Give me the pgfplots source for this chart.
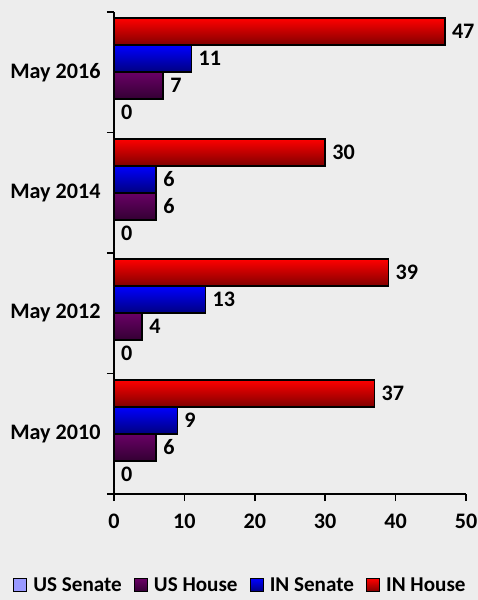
\documentclass[border=0pt]{standalone}
\usepackage{pgfplots}
\pgfplotsset{compat=1.18}
\usepackage{fontspec}
\setmainfont{Carlito}
\definecolor{bg}{HTML}{EDEDED}
\definecolor{redtop}{HTML}{FF0000}
\definecolor{redbot}{HTML}{800000}
\definecolor{bluetop}{HTML}{0000FF}
\definecolor{bluebot}{HTML}{000080}
\definecolor{purtop}{HTML}{6A0066}
\definecolor{purbot}{HTML}{330033}
\definecolor{ussen}{HTML}{9999FF}
\newcommand{\cf}{\bfseries\fontsize{22.2}{26}\selectfont}
\newcommand{\lf}{\bfseries\fontsize{21.2}{25}\selectfont}
\pgfplotsset{
  sen/.style={draw=black, line width=1.6bp, fill=ussen, bar shift=-0.336},
  ush/.style={draw=black, line width=1.6bp, top color=purtop, bottom color=purbot, bar shift=-0.112},
  ins/.style={draw=black, line width=1.6bp, top color=bluetop, bottom color=bluebot, bar shift=0.112},
  inh/.style={draw=black, line width=1.6bp, top color=redtop, bottom color=redbot, bar shift=0.336},
}
\begin{document}
\begin{tikzpicture}
\useasboundingbox (-114bp,-106bp) rectangle (364bp,494bp);
\clip (-114bp,-106bp) rectangle (364bp,494bp);
\fill[bg] (-114bp,-106bp) rectangle (364bp,494bp);
\begin{axis}[
  at={(0bp,0bp)}, anchor=south west,
  scale only axis, width=352bp, height=482bp,
  xbar, bar width=0.224,
  xmin=0, xmax=50, ymin=-0.5, ymax=3.5,
  axis x line*=bottom, axis y line*=left,
  axis line style={line width=1.6bp, black},
  xtick={0,10,20,30,40,50},
  ytick={0,1,2,3},
  yticklabels={May 2010,May 2012,May 2014,May 2016},
  minor ytick={-0.5,0.5,1.5,2.5,3.5},
  tick align=outside,
  major tick length=7bp, minor tick length=7bp,
  major y tick style={draw=none},
  minor y tick style={line width=1.6bp, black},
  major x tick style={line width=1.6bp, black},
  tick label style={font=\cf},
  /pgf/number format/assume math mode=true,
  xticklabel style={yshift=-9bp},
  yticklabel style={xshift=-3bp},
  nodes near coords,
  nodes near coords style={font=\cf, anchor=west, xshift=3bp},
  legend style={at={(axis description cs:-0.287,-0.189)}, anchor=west,
    legend columns=-1, draw=none, fill=none, font=\lf,
    /tikz/every odd column/.append style={column sep=4bp},
    /tikz/every even column/.append style={column sep=10bp},
    inner sep=0pt},
  legend image code/.code={\draw[#1, line width=1.2bp] (0bp,-6.5bp) rectangle (13bp,6.5bp);},
]
% US Senate
\addplot[sen] coordinates {(0,0)};
\addlegendentry{US Senate}
\addplot[sen, forget plot] coordinates {(0,1)};
\addplot[sen, forget plot] coordinates {(0,2)};
\addplot[sen, forget plot] coordinates {(0,3)};
% US House
\addplot[ush] coordinates {(6,0)};
\addlegendentry{US House}
\addplot[ush, forget plot] coordinates {(4,1)};
\addplot[ush, forget plot] coordinates {(6,2)};
\addplot[ush, forget plot] coordinates {(7,3)};
% IN Senate
\addplot[ins] coordinates {(9,0)};
\addlegendentry{IN Senate}
\addplot[ins, forget plot] coordinates {(13,1)};
\addplot[ins, forget plot] coordinates {(6,2)};
\addplot[ins, forget plot] coordinates {(11,3)};
% IN House
\addplot[inh] coordinates {(37,0)};
\addlegendentry{IN House}
\addplot[inh, forget plot] coordinates {(39,1)};
\addplot[inh, forget plot] coordinates {(30,2)};
\addplot[inh, forget plot] coordinates {(47,3)};
\end{axis}
\end{tikzpicture}
\end{document}
